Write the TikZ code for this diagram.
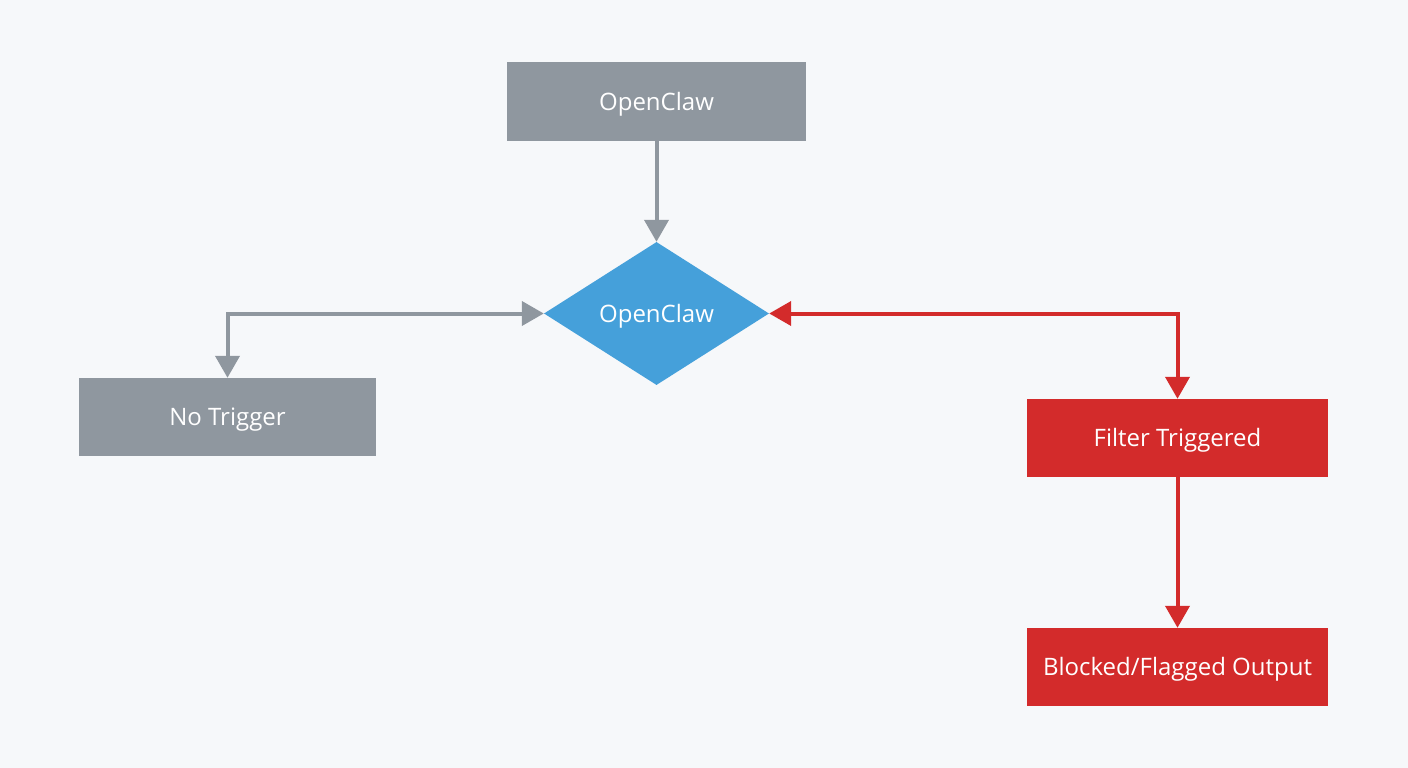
\documentclass[tikz,border=0pt]{standalone}
\usepackage{fontspec}
\setmainfont{Open Sans}
\usetikzlibrary{shapes.geometric,arrows.meta}
\definecolor{bg}{HTML}{F6F8FA}
\definecolor{boxgray}{HTML}{8F979F}
\definecolor{dblue}{HTML}{45A0DA}
\definecolor{bred}{HTML}{D32B2B}
\tikzset{
  lbl/.style={text=white, font=\fontsize{24}{28}\selectfont, text depth=1pt},
  box/.style={rectangle, minimum width=299pt, minimum height=78pt, inner sep=0pt, lbl},
  graybox/.style={box, fill=boxgray},
  redbox/.style={box, fill=bred},
  conn/.style={line width=4pt, -{Triangle[width=24pt,length=22pt]}},
  biconn/.style={line width=4pt, {Triangle[width=24pt,length=22pt]}-{Triangle[width=24pt,length=22pt]}},
}
\begin{document}
\begin{tikzpicture}[x=1pt,y=-1pt]
\fill[bg] (0,0) rectangle (1408,768);
\useasboundingbox (0,0) rectangle (1408,768);
\node[graybox] (top) at (656.5,101.5) {OpenClaw};
\node[diamond, fill=dblue, inner sep=0pt, minimum width=225pt, minimum height=143pt, aspect=1.57, lbl] (dec) at (656.5,313.5) {OpenClaw};
\node[graybox, minimum width=297pt] (no) at (227.5,417) {No Trigger};
\node[redbox, minimum width=301pt] (filt) at (1177.5,438) {Filter Triggered};
\node[redbox, minimum width=301pt] (blk) at (1177.5,667) {Blocked/Flagged Output};
\draw[conn, draw=boxgray, color=boxgray] (top.south) -- (dec.north);
\draw[biconn, draw=boxgray, color=boxgray] (no.north) |- (dec.west);
\draw[biconn, draw=bred, color=bred] (filt.north) |- (dec.east);
\draw[conn, draw=bred, color=bred] (filt.south) -- (blk.north);
\end{tikzpicture}
\end{document}
